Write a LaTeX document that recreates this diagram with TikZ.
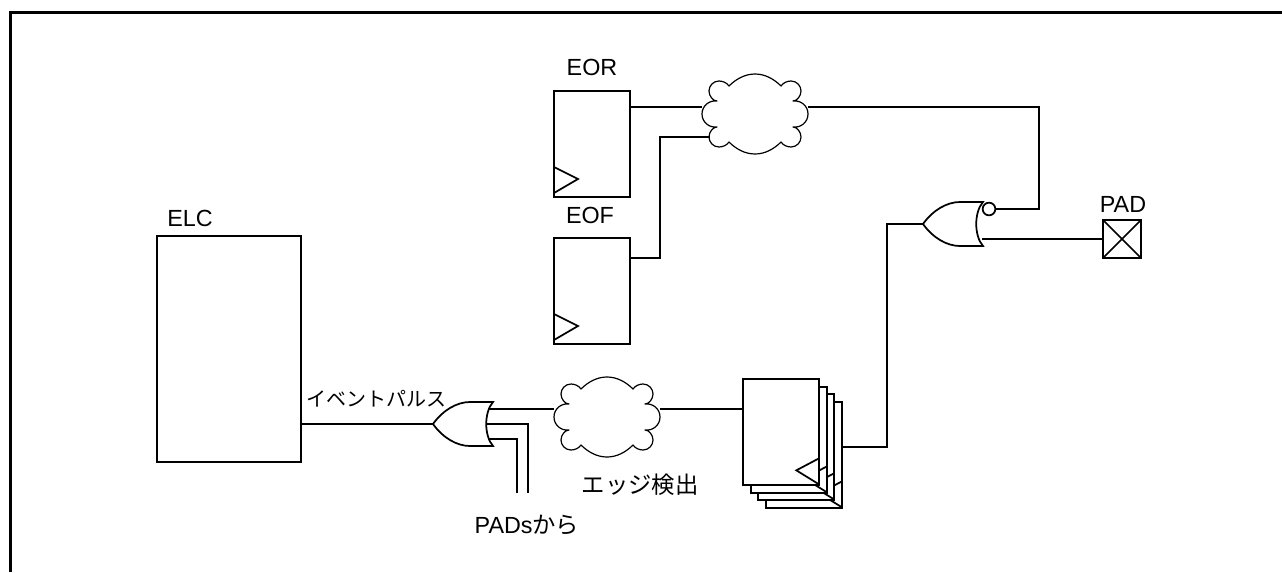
\documentclass[tikz,border=0pt]{standalone}
\usepackage{fontspec}
\setmainfont{Liberation Sans}
\newfontfamily\cjk{Noto Sans CJK JP}
\usetikzlibrary{positioning}
\tikzset{
  wire/.style={line width=1.3pt},
  thinline/.style={line width=0.9pt, line join=round},
  regbox/.style={draw, line width=1.2pt, fill=white, inner sep=0pt, outer sep=0pt, minimum width=57pt, minimum height=79.5pt},
  cloudbox/.style={inner sep=0pt, outer sep=0pt, minimum width=79.5pt, minimum height=60pt},
  lbl/.style={font=\fontsize{17.5}{19}\selectfont, inner sep=0pt},
  smalllbl/.style={font=\fontsize{15}{17}\selectfont, inner sep=0pt}
}
% cloud made of four mirrored quarters
\newcommand{\edgecloud}[2]{
  \node[cloudbox] (#1) at (#2) {};
  \foreach \sx/\sy in {1/1,-1/1,-1/-1,1/-1} {
    \begin{scope}[shift={(#2)}, xscale=\sx, yscale=\sy]
    \draw[thinline] (0,-40) .. controls (10,-40) and (19,-35) .. (26,-28)
      .. controls (28,-31) and (32,-33) .. (36,-33)
      .. controls (42,-33) and (46,-28) .. (46,-23)
      .. controls (46,-18) and (42,-13) .. (38,-13)
      .. controls (46,-14) and (53,-8) .. (53,0);
    \end{scope}
  }
}
% or gate, tip at #2
\newcommand{\orgate}[2]{
  \begin{scope}[shift={(#2)}]
  \draw[wire] (0,0) .. controls (10,-14) and (24,-22) .. (37,-22) -- (60,-22)
    .. controls (51,-12) and (51,12) .. (60,22) -- (37,22)
    .. controls (24,22) and (10,14) .. (0,0) -- cycle;
  \coordinate (#1in) at (0,0);
  \coordinate (#1a) at (55,-15);
  \coordinate (#1b) at (53,0);
  \coordinate (#1c) at (55,15);
  \end{scope}
}
% register with clock mark
\newcommand{\regclock}[2]{
  \node[regbox] (#1) at (#2) {};
  \draw[wire] ([yshift=22.5pt]#1.south west) -- ([xshift=18pt,yshift=13.5pt]#1.south west) -- ([yshift=3pt]#1.south west);
}
% same, clock mark on the right edge
\newcommand{\regclockr}[2]{
  \node[regbox] (#1) at (#2) {};
  \draw[wire] ([yshift=20pt]#1.south east) -- ([xshift=-17pt,yshift=11pt]#1.south east) -- ([yshift=0.5pt]#1.south east);
}
\begin{document}
\begin{tikzpicture}[x=0.75pt,y=-0.75pt]
\useasboundingbox (0,0) rectangle (1282,572);
% frame
\draw[line width=2.25pt] (10.5,572) -- (10.5,12.5) -- (1282,12.5);
% event source
\node[regbox, minimum width=108pt, minimum height=169.5pt] (elc) at (229,349) {};
\node[lbl] (elclbl) at (190,218.5) {ELC};
\orgate{ora}{433,424}
\draw[wire] (elc.east |- orain) -- (orain);
\node[smalllbl] (pulselbl) at (376,399) {\cjk イベントパルス};
\coordinate (pada) at (528,493);
\coordinate (padb) at (517,493);
\draw[wire] (orab) -- (orab -| pada) -- (pada);
\draw[wire] (orac) -- (orac -| padb) -- (padb);
\node[lbl] (padslbl) at (527,525) {PADs\cjk から};
% edge detect
\edgecloud{edge}{607,417}
\node[lbl] (edgelbl) at (640,485) {\cjk エッジ検出};
\coordinate (edgein) at (554,409);
\coordinate (edgeout) at (660,409);
\draw[wire] (oraa |- edgein) -- (edgein);
% register stack
\foreach \i/\cx/\cy in {3/804/455,2/796/447,1/789/440,0/781/432} {
  \regclockr{ff\i}{\cx,\cy}
}
\draw[wire] (edgeout) -- (ff0.west |- edgeout);
% EOR and EOF
\node[lbl] (eorlbl) at (592,67) {EOR};
\regclock{eor}{592,144}
\node[lbl] (eoflbl) at (590,215) {EOF};
\regclock{eof}{592,291}
\edgecloud{mix}{755,114}
\coordinate (mixa) at (702,107);
\coordinate (mixb) at (710,137);
\coordinate (mixout) at (808,107);
\coordinate (eofout) at (630,258);
\draw[wire] (eor.east |- mixa) -- (mixa);
\draw[wire] (eofout) -- (660,258) -- (660,137) -- (mixb);
% output gate
\orgate{norg}{923,224}
\node[draw, wire, circle, inner sep=0pt, minimum size=9.5pt] (bubble) at (989,209) {};
\draw[wire] (mixout) -- (1039,107) -- (1039,209) -- (bubble);
\coordinate (ffout) at (842,447);
\draw[wire] (ffout) -- (887,447) -- (887,224) -- (norgin);
% pad
\node[draw, wire, inner sep=0pt, outer sep=0pt, minimum size=28.5pt] (pad) at (1122,239) {};
\draw[wire] (pad.north west) -- (pad.south east);
\draw[wire] (pad.north east) -- (pad.south west);
\node[lbl] (padlbl) at (1123,204.5) {PAD};
\draw[wire] (982,239) -- (pad);
\end{tikzpicture}
\end{document}
